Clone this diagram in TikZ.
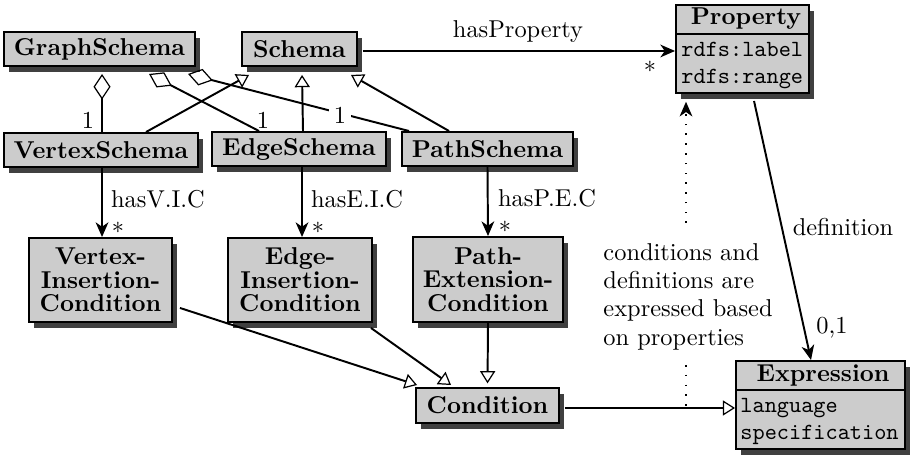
\documentclass[tikz,border=0pt]{standalone}
\usetikzlibrary{arrows.meta,shadows,calc}
\begin{document}
\begin{tikzpicture}[x=0.41pt,y=-0.41pt,
  cls/.style={draw=black, line width=0.8pt, fill=black!20,
    drop shadow={shadow xshift=2.2pt, shadow yshift=-2.4pt, fill=black!75, opacity=1},
    font=\fontsize{10}{9.6}\selectfont\bfseries, inner sep=0pt, align=center},
  sz/.style 2 args={minimum width=#1*0.41pt, minimum height=#2*0.41pt},
  conn/.style={line width=0.8pt},
  assoc/.style={conn, -{Stealth[length=6pt,width=5.2pt,inset=1.8pt]}},
  inh/.style={conn, -{Triangle[open,length=5pt,width=6.2pt,line width=0.5pt]}},
  agg/.style={conn, {Diamond[open,length=10.5pt,width=7pt,line width=0.5pt]}-},
  lbl/.style={font=\fontsize{10}{12}\selectfont, inner sep=1pt},
  ttl/.style={font=\fontsize{10}{12}\selectfont\bfseries, inner sep=0pt, anchor=base},
  attr/.style={font=\fontsize{9.5}{11}\selectfont\ttfamily, inner sep=0pt, anchor=base west},
  dots/.style={line width=0.8pt, dash pattern=on 0.7pt off 3.3pt},
]
\useasboundingbox (0,0) rectangle (911,455);

% class boxes
\node[cls, sz={191}{34}] (GraphSchema) at (99.5,49) {GraphSchema};
\node[cls, sz={115}{34}] (Schema) at (299.5,49) {Schema};
\node[cls, sz={194}{34}] (VertexSchema) at (101,150) {VertexSchema};
\node[cls, sz={174}{34}] (EdgeSchema) at (299,149) {EdgeSchema};
\node[cls, sz={171}{34}] (PathSchema) at (487.5,149) {PathSchema};
\node[cls, sz={143}{84}] (VIC) at (100.5,280) {Vertex-\\Insertion-\\Condition};
\node[cls, sz={144}{84}] (EIC) at (300,280) {Edge-\\Insertion-\\Condition};
\node[cls, sz={150}{85}] (PEC) at (488,279.5) {Path-\\Extension-\\Condition};
\node[cls, sz={143}{35}] (Condition) at (487.5,405.5) {Condition};
\node[cls, sz={133}{88}] (Property) at (742.5,49) {};
\node[cls, sz={169}{88}] (Expression) at (820.5,405) {};

% property compartments
\draw[line width=0.6pt] ($(Property.north west)+(0,30)$) -- ($(Property.north east)+(0,30)$);
\node[ttl] (PropT) at (746,25) {Property};
\node[attr] (PropA) at (681,57) {rdfs:label};
\node[attr] (PropB) at (681,84) {rdfs:range};

% expression compartments
\draw[line width=0.6pt] ($(Expression.north west)+(0,30)$) -- ($(Expression.north east)+(0,30)$);
\node[ttl] (ExprT) at (823,382) {Expression};
\node[attr] (ExprA) at (740,413) {language};
\node[attr] (ExprB) at (740,440) {specification};

% inheritance to Schema
\draw[inh] ($(VertexSchema.north west)+(143,0)$) -- ($(Schema.south west)+(8,8)$);
\draw[inh] ($(EdgeSchema.north)+(4,0)$) -- ($(Schema.south west)+(61,8)$);
\draw[inh] ($(PathSchema.north west)+(48,0)$) -- ($(Schema.south west)+(110,8)$);

% aggregations from GraphSchema
\draw[agg] ($(GraphSchema.south west)+(99,7)$) -- ($(VertexSchema.north west)+(99,0)$);
\draw[agg] ($(GraphSchema.south west)+(146,7)$) -- ($(EdgeSchema.north west)+(48,0)$);
\draw[agg] ($(GraphSchema.south west)+(185,7)$) -- ($(PathSchema.north west)+(8,0)$);
\node[lbl] (m1) at (88,120) {1};
\node[lbl] (m2) at (263,120) {1};
\node[lbl, fill=white, inner sep=2pt] (m3) at (340,115) {1};

% hasProperty
\draw[assoc] ($(Schema.east)+(5,2)$) -- ($(Property.west)+(0,2)$);
\node[lbl] (hp) at (518,32) {hasProperty};
\node[lbl] (hps) at (650,67) {$*$};

% has... associations
\draw[assoc] ($(VertexSchema.south west)+(99,0)$) -- ($(VIC.north west)+(74,0)$);
\node[lbl] (hv) at (158,199) {hasV.I.C};
\node[lbl] (hvs) at (118,228) {$*$};
\draw[assoc] ($(EdgeSchema.south west)+(91,0)$) -- ($(EIC.north west)+(75,0)$);
\node[lbl] (he) at (357,199) {hasE.I.C};
\node[lbl] (hes) at (318,228) {$*$};
\draw[assoc] (PathSchema.south) -- (PEC.north);
\node[lbl] (hpe) at (547,198) {hasP.E.C};
\node[lbl] (hpes) at (505,227) {$*$};

% inheritance to Condition
\draw[inh] ($(VIC.south east)+(7,-15)$) -- ($(Condition.north west)+(2,-2)$);
\draw[inh] ($(EIC.south east)+(-2,5)$) -- ($(Condition.north west)+(36,-2)$);
\draw[inh, shorten >=1.5pt] (PEC.south) -- (Condition.north);

% Condition to Expression
\draw[inh] ($(Condition.east)+(5,2.5)$) -- ($(Condition.east -| Expression.west)+(0,2.5)$);

% definition
\draw[assoc] ($(Property.south west)+(79,7)$) -- ($(Expression.north west)+(76,0)$);
\node[lbl] (def) at (843,227) {definition};
\node[lbl] (zo) at (832,328) {0,1};

% dotted note
\coordinate (dotTop) at (686,223);
\coordinate (dotBot) at (686,365);
\coordinate (dotEnd) at (686,408);
\draw[dots, -{Stealth[length=6pt,width=5.2pt,inset=1.8pt]}, shorten >=3.2pt] (dotTop) -- (dotTop |- Property.south);
\draw[dots] (dotBot) -- (dotEnd);
\node[anchor=north west, align=left, inner sep=0pt, font=\fontsize{10}{11.6}\selectfont] (note) at (603,243)
  {conditions and\\definitions are\\expressed based\\on properties};
\end{tikzpicture}
\end{document}
